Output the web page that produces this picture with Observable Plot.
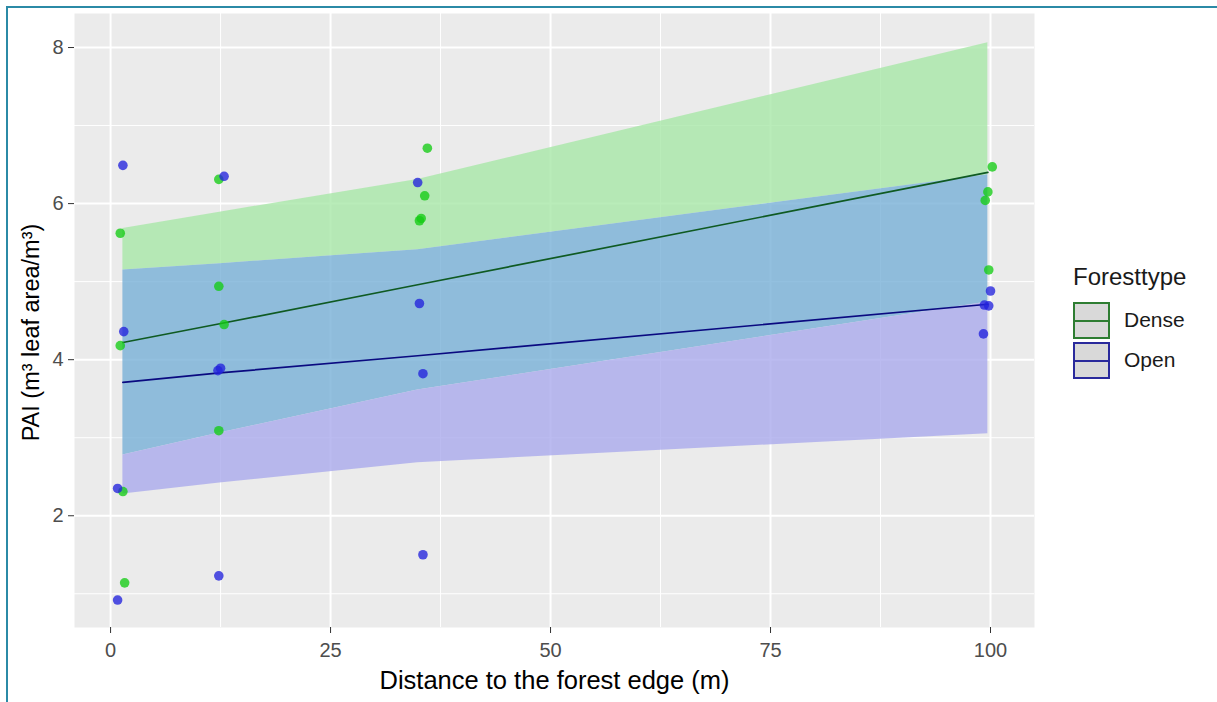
<!DOCTYPE html>
<html><head><meta charset="utf-8">
<script src="https://cdn.jsdelivr.net/npm/d3@7"></script>
<script src="https://cdn.jsdelivr.net/npm/@observablehq/plot@0.6"></script>
<style>
body{margin:0;background:#fff;font-family:"Liberation Sans",Arial,sans-serif;}
#wrap{position:relative;width:1217px;height:702px;overflow:hidden;background:#fff;}
#frame{position:absolute;left:6px;top:6px;width:1400px;height:900px;border-top:2px solid #2b8aa6;border-left:2px solid #2b8aa6;pointer-events:none;}
#chart{position:absolute;left:0;top:0;}
#legend{position:absolute;left:1073px;top:263px;color:#1a1a1a;}
#legend .title{font-size:24px;line-height:28px;margin-bottom:9px;}
#legend .row{display:flex;align-items:center;height:40px;}
#legend .key{width:33px;height:33px;background:#d9d9d9;border:2px solid;position:relative;margin-right:14px;}
#legend .key span{position:absolute;left:0;right:0;top:16px;height:2px;}
#legend .lab{font-size:21px;}
g[aria-label="y-axis tick label"], g[aria-label="x-axis tick label"]{fill:#4d4d4d;}
g[aria-label="y-axis tick"], g[aria-label="x-axis tick"]{stroke:#333;}
</style>
</head><body>
<div id="wrap"><div id="chart"></div><div id="frame"></div>
<div id="legend">
  <div class="title">Foresttype</div>
  <div class="row"><div class="key" style="border-color:#2e7d32"><span style="background:#2e7d32"></span></div><div class="lab">Dense</div></div>
  <div class="row"><div class="key" style="border-color:#2a2a9c"><span style="background:#2a2a9c"></span></div><div class="lab">Open</div></div>
</div>
</div>
<script>
// Observed points
const denseX = [1.1, 1.1, 1.4, 1.6, 12.3, 12.3, 12.9, 12.3, 36.0, 35.7, 35.3, 35.1, 100.2, 99.7, 99.4, 99.8];
const denseY = [5.62, 4.18, 2.31, 1.14, 6.31, 4.94, 4.45, 3.09, 6.71, 6.10, 5.81, 5.78, 6.47, 6.15, 6.04, 5.15];
const openX = [1.4, 1.5, 0.8, 0.8, 12.9, 12.2, 12.5, 12.3, 34.9, 35.1, 35.5, 35.5, 100.0, 99.3, 99.8, 99.2];
const openY = [6.49, 4.36, 2.35, 0.92, 6.35, 3.86, 3.89, 1.23, 6.27, 4.72, 3.82, 1.50, 4.88, 4.70, 4.69, 4.33];
// Model fit and intervals
const fitX = [1.4, 12.4, 34.9, 99.7];
const denseFit = [4.22, 4.46, 4.96, 6.40];
const denseLower = [2.78, 3.06, 3.61, 4.74];
const denseUpper = [5.68, 5.89, 6.31, 8.06];
const openFit = [3.71, 3.83, 4.05, 4.71];
const openLower = [2.28, 2.42, 2.68, 3.05];
const openUpper = [5.15, 5.23, 5.41, 6.37];
// Axes
const xTicks = [0, 25, 50, 75, 100];
const yTicks = [2, 4, 6, 8];
const xMinor = [12.5, 37.5, 62.5, 87.5];
const yMinor = [1, 3, 5, 7];
const xTitle = "Distance to the forest edge (m)";
const yTitle = "PAI (m³ leaf area/m³)";

const fit = fitX.map((x, i) => ({
  x, dense: denseFit[i], open: openFit[i],
  dLo: denseLower[i], dHi: denseUpper[i], oLo: openLower[i], oHi: openUpper[i],
  ovLo: Math.max(denseLower[i], openLower[i]), ovHi: Math.min(denseUpper[i], openUpper[i])
}));
const pts = [
  ...denseX.map((x, i) => ({x, y: denseY[i], type: "Dense"})),
  ...openX.map((x, i) => ({x, y: openY[i], type: "Open"}))
];

const chart = Plot.plot({
  width: 1217, height: 702,
  marginLeft: 74, marginRight: 183, marginTop: 13, marginBottom: 75,
  style: {fontFamily: "'Liberation Sans', Arial, sans-serif", fontSize: "20px", background: "transparent", overflow: "visible"},
  x: {domain: [-4.1, 105.0]},
  y: {domain: [0.568, 8.436]},
  marks: [
    Plot.frame({fill: "#ebebeb", stroke: null}),
    Plot.gridX(xMinor, {stroke: "#fff", strokeOpacity: 1, strokeWidth: 1}),
    Plot.gridY(yMinor, {stroke: "#fff", strokeOpacity: 1, strokeWidth: 1}),
    Plot.gridX(xTicks, {stroke: "#fff", strokeOpacity: 1, strokeWidth: 2}),
    Plot.gridY(yTicks, {stroke: "#fff", strokeOpacity: 1, strokeWidth: 2}),
    // Dense-only part of interval (above Open's upper)
    Plot.areaY(fit, {x: "x", y1: "ovHi", y2: "dHi", fill: "#a8e7a8", fillOpacity: 0.8}),
    // Overlap of the two intervals
    Plot.areaY(fit, {x: "x", y1: "ovLo", y2: "ovHi", fill: "#78b0d7", fillOpacity: 0.8}),
    // Open-only part of interval (below Dense's lower)
    Plot.areaY(fit, {x: "x", y1: "oLo", y2: "ovLo", fill: "#aaaaec", fillOpacity: 0.8}),
    Plot.line(fit, {x: "x", y: "dense", stroke: "#0f5a22", strokeWidth: 1.7}),
    Plot.line(fit, {x: "x", y: "open", stroke: "#0a0a80", strokeWidth: 1.7}),
    Plot.dot(pts, {x: "x", y: "y", r: 4.8, fill: d => d.type === "Dense" ? "#14cc14" : "#2222dd", fillOpacity: 0.78, stroke: null}),
    Plot.axisX({ticks: xTicks, tickSize: 6, tickPadding: 9, fontSize: 20, label: null}),
    Plot.axisY({ticks: yTicks, tickSize: 6, tickPadding: 5, fontSize: 20, label: null}),
    Plot.text([xTitle], {frameAnchor: "bottom", dy: 53, textAnchor: "middle", lineAnchor: "middle", fontSize: 25.5, fill: "#000"}),
    Plot.text([yTitle], {frameAnchor: "left", dx: -43, dy: 12, textAnchor: "middle", rotate: -90, lineAnchor: "middle", fontSize: 23.5, fill: "#000"})
  ]
});
document.getElementById("chart").appendChild(chart);
</script>
</body></html>
